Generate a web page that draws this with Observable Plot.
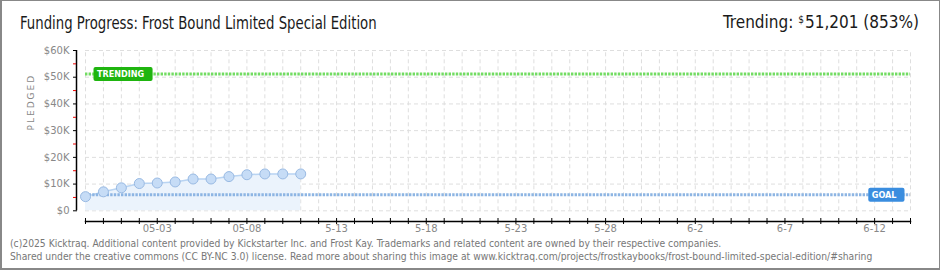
<!DOCTYPE html>
<html>
<head>
<meta charset="utf-8">
<script src="https://cdn.jsdelivr.net/npm/d3@7"></script>
<script src="https://cdn.jsdelivr.net/npm/@observablehq/plot@0.6"></script>
<style>
  body { margin: 0; background: #fff; }
  #wrap { position: relative; width: 940px; height: 270px; overflow: hidden; background: #fff; font-family: "DejaVu Sans", sans-serif; }
  #border { position: absolute; left: 0; top: 0; right: 0; bottom: 0; border: 1px solid #888; border-left-width: 2px; border-bottom-width: 2px; pointer-events: none; box-sizing: border-box; }
  #head { position: relative; height: 40px; }
  #title { position: absolute; left: 20px; top: 13px; font-family: "DejaVu Sans Condensed", sans-serif; font-size: 17px; line-height: 20px; color: #1a1a1a; white-space: nowrap; transform: scaleX(0.868); transform-origin: 0 50%; }
  #trend { position: absolute; right: 21px; top: 10px; font-family: "DejaVu Sans Condensed", sans-serif; font-size: 17px; line-height: 20px; color: #1a1a1a; white-space: nowrap; }
  #trend .cur { font-size: 10px; vertical-align: 5px; margin-right: 1px; }
  #chart svg { display: block; }
  #foot { position: absolute; left: 10px; top: 237px; font-family: "DejaVu Sans Condensed", "DejaVu Sans", sans-serif; font-size: 10.25px; line-height: 13px; color: #777; white-space: nowrap; }
</style>
</head>
<body>
<div id="wrap">
  <div id="head">
    <div id="title">Funding Progress: Frost Bound Limited Special Edition</div>
    <div id="trend">Trending: <span class="cur">$</span>51,201 (853%)</div>
  </div>
  <div id="chart"></div>
  <div id="foot">(c)2025 Kicktraq. Additional content provided by Kickstarter Inc. and Frost Kay. Trademarks and related content are owned by their respective companies.<br>Shared under the creative commons (CC BY-NC 3.0) license. Read more about sharing this image at www.kicktraq.com/projects/frostkaybooks/frost-bound-limited-special-edition/#sharing</div>
  <div id="border"></div>
</div>
<script>
// ---- data ----
const dates = ["2025-04-29","2025-04-30","2025-05-01","2025-05-02","2025-05-03","2025-05-04","2025-05-05","2025-05-06","2025-05-07","2025-05-08","2025-05-09","2025-05-10","2025-05-11"];
const pledged = [5300, 7100, 8600, 10200, 10400, 10800, 11900, 11900, 12800, 13500, 13800, 13800, 13800];
const goal = 6000;
const trending = 51201;
const xStart = "2025-04-29";
const xEnd = "2025-06-14";
const xLabelDates = ["2025-05-03","2025-05-08","2025-05-13","2025-05-18","2025-05-23","2025-05-28","2025-06-02","2025-06-07","2025-06-12"];
const xLabels = ["05-03","05-08","5-13","5-18","5-23","5-28","6-2","6-7","6-12"];
const yTicks = [0, 10000, 20000, 30000, 40000, 50000, 60000];
const yMinorTicks = [5000, 15000, 25000, 35000, 45000, 55000];
const yLabels = ["$0","$10K","$20K","$30K","$40K","$50K","$60K"];

// ---- build ----
const parse = d3.utcParse("%Y-%m-%d");
const data = dates.map((d, i) => ({date: parse(d), value: pledged[i]}));
const start = parse(xStart), end = parse(xEnd);
const allDays = d3.utcDay.range(start, d3.utcDay.offset(end, 1));
const labelDays = xLabelDates.map(parse);
const labelMap = new Map(labelDays.map((d, i) => [+d, xLabels[i]]));
const yLabelMap = new Map(yTicks.map((v, i) => [v, yLabels[i]]));

const gridStyle = {stroke: "#dedede", strokeWidth: 1, strokeDasharray: "4,3"};

const plot = Plot.plot({
  width: 940,
  height: 196,
  marginTop: 10,
  marginBottom: 15,
  marginLeft: 85,
  marginRight: 30,
  style: {fontFamily: "DejaVu Sans, sans-serif", background: "transparent", overflow: "visible"},
  x: {type: "utc", domain: [start, end], axis: null},
  y: {domain: [0, 60000], range: [170.3, 10], axis: null},
  marks: [
    Plot.ruleX(allDays, {x: d => d, y1: 0, y2: 60000, ...gridStyle}),
    Plot.ruleY(yTicks, {y: d => d, x1: start, x2: end, ...gridStyle}),
    Plot.areaY(data, {x: "date", y: "value", fill: "#ebf3fc"}),
    Plot.lineY(data, {x: "date", y: "value", stroke: "#b9d4f2", strokeWidth: 1.5}),
    Plot.ruleY([goal], {y: d => d, x1: start, x2: end, stroke: "#8db5e3", strokeWidth: 3, strokeDasharray: "2.4,1.2"}),
    Plot.ruleY([trending], {y: d => d, x1: start, x2: end, stroke: "#72dc62", strokeWidth: 3, strokeDasharray: "2.4,1.2"}),
    Plot.dot(data, {x: "date", y: "value", r: 5, fill: "#c6dcf6", stroke: "#99bae3", strokeWidth: 1}),
    // y axis line
    Plot.ruleX([start], {x: d => d, y1: 0, y2: 60000, dx: -9, stroke: "#000", strokeWidth: 1.5}),
    // x axis line
    Plot.frame({anchor: "bottom", stroke: "#000", strokeWidth: 1.5}),
    Plot.axisY(yTicks, {anchor: "left", tickSize: 4, dx: -8, tickPadding: 4, stroke: "#000", fill: "#888", fontSize: 10, tickFormat: d => yLabelMap.get(d), label: null}),
    Plot.axisY(yMinorTicks, {anchor: "left", tickSize: 3, dx: -9, stroke: "#e00", fill: "none", label: null}),
    Plot.axisX(allDays, {anchor: "bottom", tickSize: 6, dy: -3, stroke: "#000", fill: "none", label: null}),
    Plot.axisX(labelDays, {anchor: "bottom", tickSize: 0, tickPadding: 3, fill: "#888", fontSize: 10, tickFormat: d => labelMap.get(+d), label: null}),
    Plot.text(["PLEDGED"], {frameAnchor: "left", rotate: -90, dx: -54, dy: -5.5, fill: "#888", fontSize: 9, text: d => d}),
    Plot.text([trending], {x: () => start, y: d => d, text: () => "TRENDING", dx: 11.5, textAnchor: "start", fill: "#fff", fontWeight: "bold", fontSize: 9, fontFamily: "DejaVu Sans Condensed, DejaVu Sans, sans-serif"}),
    Plot.text([goal], {x: () => end, y: d => d, text: () => "GOAL", dx: -14, textAnchor: "end", fill: "#fff", fontWeight: "bold", fontSize: 9, fontFamily: "DejaVu Sans Condensed, DejaVu Sans, sans-serif"})
  ]
});
document.getElementById("chart").appendChild(plot);

// label boxes behind TRENDING / GOAL texts
const boxColors = {"TRENDING": "#1fb50f", "GOAL": "#3a8ddf"};
d3.select(plot).selectAll("text").each(function() {
  const t = this.textContent;
  if (t === "PLEDGED") this.setAttribute("letter-spacing", "2");
  if (!(t in boxColors)) return;
  const bb = this.getBBox();
  const rect = document.createElementNS("http://www.w3.org/2000/svg", "rect");
  const cy = bb.y + bb.height / 2;
  rect.setAttribute("x", bb.x - 3.5);
  rect.setAttribute("y", cy - 7);
  rect.setAttribute("width", bb.width + 3.5 + 8);
  rect.setAttribute("height", 14);
  rect.setAttribute("rx", 2);
  rect.setAttribute("fill", boxColors[t]);
  rect.setAttribute("stroke", "none");
  const tr = this.getAttribute("transform");
  if (tr) rect.setAttribute("transform", tr);
  this.parentNode.insertBefore(rect, this);
});
</script>
</body>
</html>
